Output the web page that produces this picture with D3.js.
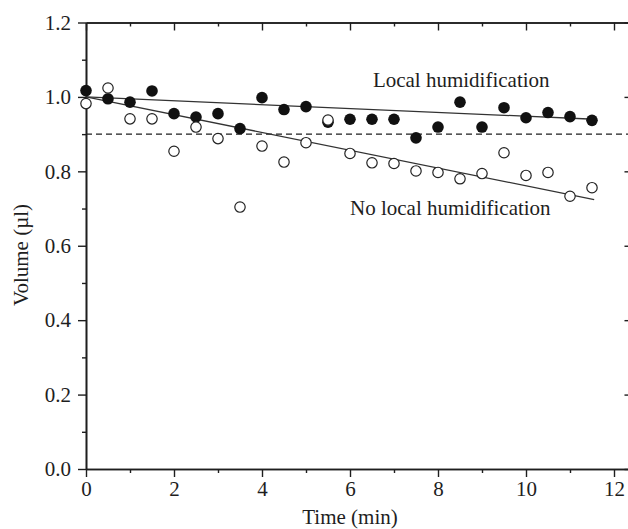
<!DOCTYPE html>
<html>
<head>
<meta charset="utf-8">
<script src="https://cdn.jsdelivr.net/npm/d3@7"></script>
<style>
  body { margin: 0; background: #fff; }
  svg text { font-family: 'Liberation Serif', 'Times New Roman', serif; fill: #1e1e1e; }
</style>
</head>
<body>
<div id="chart"></div>
<script>
"use strict";
// sampling times (min)
const times = [0, 0.5, 1, 1.5, 2, 2.5, 3, 3.5, 4, 4.5, 5, 5.5, 6, 6.5, 7, 7.5, 8, 8.5, 9, 9.5, 10, 10.5, 11, 11.5];
// volume (µl) with local humidification (filled)
const localHum = [1.017, 0.995, 0.986, 1.016, 0.955, 0.946, 0.955, 0.915, 0.998, 0.966, 0.974, 0.932,
    0.940, 0.940, 0.940, 0.890, 0.919, 0.986, 0.919, 0.971, 0.944, 0.958, 0.947, 0.937];
// volume (µl) without local humidification (open)
const noLocalHum = [0.982, 1.024, 0.941, 0.941, 0.854, 0.919, 0.888, 0.704, 0.868, 0.825, 0.877, 0.938,
    0.848, 0.823, 0.821, 0.801, 0.797, 0.780, 0.794, 0.850, 0.789, 0.797, 0.733, 0.756];
// fitted lines, read at their end points
const fitX = [0, 11.55];
const fitLocal = [1.0, 0.94];
const fitNoLocal = [1.0, 0.724];
const threshold = 0.9;
// ticks
const xMajor = [0, 2, 4, 6, 8, 10, 12];
const xMinor = [1, 3, 5, 7, 9, 11];
const yMajor = [0, 0.2, 0.4, 0.6, 0.8, 1.0, 1.2];
const yMinor = [0.1, 0.3, 0.5, 0.7, 0.9, 1.1];
const labels = ['Local humidification', 'No local humidification'];
const labelPos = [[6.52, 1.026], [6.0, 0.683]];

const width = 628, height = 529;
const xMax = 12.42;
const x = d3.scaleLinear().domain([0, xMax]).range([86, 86 + xMax * 44]);
const y = d3.scaleLinear().domain([0, 1.2]).range([469, 22.5]);
const ink = '#1e1e1e';

let svg = d3.select('#chart')
    .append('svg')
    .attr('width', width)
    .attr('height', height)
    .style('background', '#fff');

function styleAxis(g) {
    g.select('.domain').attr('stroke', ink).attr('stroke-width', 1.6);
    g.selectAll('.tick line').attr('stroke', ink).attr('stroke-width', 1.4);
    g.selectAll('.tick text').style('font-size', '21px').attr('fill', ink);
}

// bottom axis
svg.append('g')
    .attr('transform', 'translate(0,' + y(0) + ')')
    .call(d3.axisBottom(x).tickValues(xMajor).tickSize(8).tickSizeOuter(0).tickPadding(4).tickFormat(d3.format('d')))
    .call(styleAxis);
svg.append('g')
    .attr('transform', 'translate(0,' + y(0) + ')')
    .call(d3.axisBottom(x).tickValues(xMinor).tickSize(4).tickSizeOuter(0).tickFormat(''))
    .call(styleAxis);
// top axis
svg.append('g')
    .attr('transform', 'translate(0,' + y(1.2) + ')')
    .call(d3.axisTop(x).tickValues(xMajor).tickSize(-8).tickSizeOuter(0).tickFormat(''))
    .call(styleAxis);
svg.append('g')
    .attr('transform', 'translate(0,' + y(1.2) + ')')
    .call(d3.axisTop(x).tickValues(xMinor).tickSize(-4).tickSizeOuter(0).tickFormat(''))
    .call(styleAxis);
// left axis
svg.append('g')
    .attr('transform', 'translate(' + x(0) + ',0)')
    .call(d3.axisLeft(y).tickValues(yMajor).tickSize(8).tickSizeOuter(0).tickPadding(7).tickFormat(d3.format('.1f')))
    .call(styleAxis);
svg.append('g')
    .attr('transform', 'translate(' + x(0) + ',0)')
    .call(d3.axisLeft(y).tickValues(yMinor).tickSize(4).tickSizeOuter(0).tickFormat(''))
    .call(styleAxis);
// right axis (line itself falls just outside the picture)
svg.append('g')
    .attr('transform', 'translate(' + x(xMax) + ',0)')
    .call(d3.axisRight(y).tickValues(yMajor).tickSize(-8).tickSizeOuter(0).tickFormat(''))
    .call(styleAxis);

// threshold
svg.append('line')
    .attr('x1', x(0)).attr('x2', x(xMax))
    .attr('y1', y(threshold)).attr('y2', y(threshold))
    .attr('stroke', ink)
    .attr('stroke-width', 1.3)
    .attr('stroke-dasharray', '6,4');

// fit lines
const line = d3.line().x(d => x(d[0])).y(d => y(d[1]));
[fitLocal, fitNoLocal].forEach(function (fit) {
    svg.append('path')
        .attr('d', line(fitX.map((t, i) => [t, fit[i]])))
        .attr('fill', 'none')
        .attr('stroke', '#333')
        .attr('stroke-width', 1.3);
});

// points
svg.append('g').selectAll('circle')
    .data(times.map((t, i) => [t, localHum[i]]))
    .enter()
    .append('circle')
    .attr('cx', d => x(d[0]))
    .attr('cy', d => y(d[1]))
    .attr('r', 5.8)
    .attr('fill', '#111');
svg.append('g').selectAll('circle')
    .data(times.map((t, i) => [t, noLocalHum[i]]))
    .enter()
    .append('circle')
    .attr('cx', d => x(d[0]))
    .attr('cy', d => y(d[1]))
    .attr('r', 5.2)
    .attr('fill', '#fff')
    .attr('stroke', '#222')
    .attr('stroke-width', 1.2);

// annotations
labels.forEach(function (str, i) {
    svg.append('text')
        .attr('x', x(labelPos[i][0]))
        .attr('y', y(labelPos[i][1]))
        .style('font-size', '21px')
        .text(str);
});

// axis titles
svg.append('text')
    .attr('x', 350)
    .attr('y', 524)
    .attr('text-anchor', 'middle')
    .style('font-size', '21px')
    .text('Time (min)');
svg.append('text')
    .attr('transform', 'translate(28,255) rotate(-90)')
    .attr('text-anchor', 'middle')
    .style('font-size', '21px')
    .text('Volume (µl)');
</script>
</body>
</html>
